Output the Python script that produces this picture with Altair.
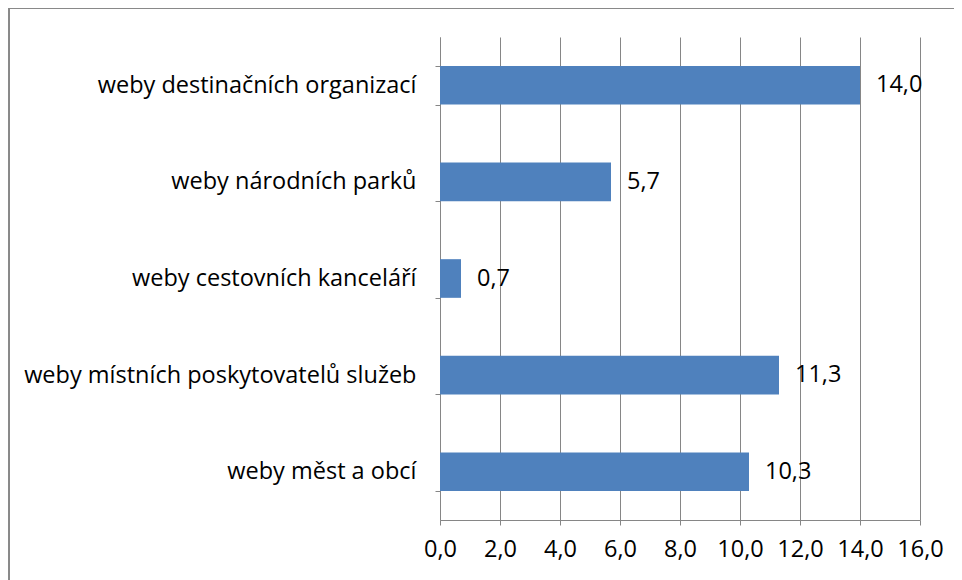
import altair as alt
import pandas as pd

categories = [
    "weby destinačních organizací",
    "weby národních parků",
    "weby cestovních kanceláří",
    "weby místních poskytovatelů služeb",
    "weby měst a obcí",
]
values = [14.0, 5.7, 0.7, 11.3, 10.3]
x_ticks = [0, 2, 4, 6, 8, 10, 12, 14, 16]

df = pd.DataFrame({"cat": categories, "val": values})
df["lbl"] = [f"{v:.1f}".replace(".", ",") for v in values]

FONT = "Open Sans"
FS = 23.5
GRID = "#868686"

y_enc = alt.Y(
    "cat:N",
    sort=categories,
    title=None,
    scale=alt.Scale(paddingInner=0.6, paddingOuter=0.3),
    axis=alt.Axis(
        tickBand="extent",
        tickSize=5,
        tickColor=GRID,
        domainColor=GRID,
        labelPadding=19,
        labelFont=FONT,
        labelFontSize=FS,
        labelColor="#000000",
        labelLimit=500,
        grid=False,
    ),
)
x_enc = alt.X(
    "val:Q",
    title=None,
    scale=alt.Scale(domain=[0, 16], nice=False),
    axis=alt.Axis(
        values=x_ticks,
        labelExpr="replace(format(datum.value, '.1f'), '.', ',')",
        tickSize=5,
        tickColor=GRID,
        domainColor=GRID,
        gridColor=GRID,
        grid=True,
        labelPadding=12,
        labelFont=FONT,
        labelFontSize=FS,
        labelColor="#000000",
        labelFlush=False,
    ),
)

bars = alt.Chart(df).mark_bar(color="#4F81BD").encode(x=x_enc, y=y_enc)
texts = alt.Chart(df).mark_text(
    align="left", baseline="middle", dx=16, font=FONT, fontSize=FS, color="#000000"
).encode(x="val:Q", y=alt.Y("cat:N", sort=categories), text="lbl:N")

border = alt.Chart(df).mark_rect(fill=None, stroke=GRID, strokeWidth=1).encode(
    x=alt.value(-431), x2=alt.value(560), y=alt.value(-29), y2=alt.value(640)
)

chart = (
    alt.layer(bars, texts, border)
    .properties(
        width=480,
        height=483,
        autosize=alt.AutoSizeParams(type="none"),
        padding={"left": 432, "top": 29, "right": 34, "bottom": 60},
        background="white",
    )
    .configure_view(stroke=None)
)

chart.save("out.html", embed_options={"renderer": "svg", "actions": False})
